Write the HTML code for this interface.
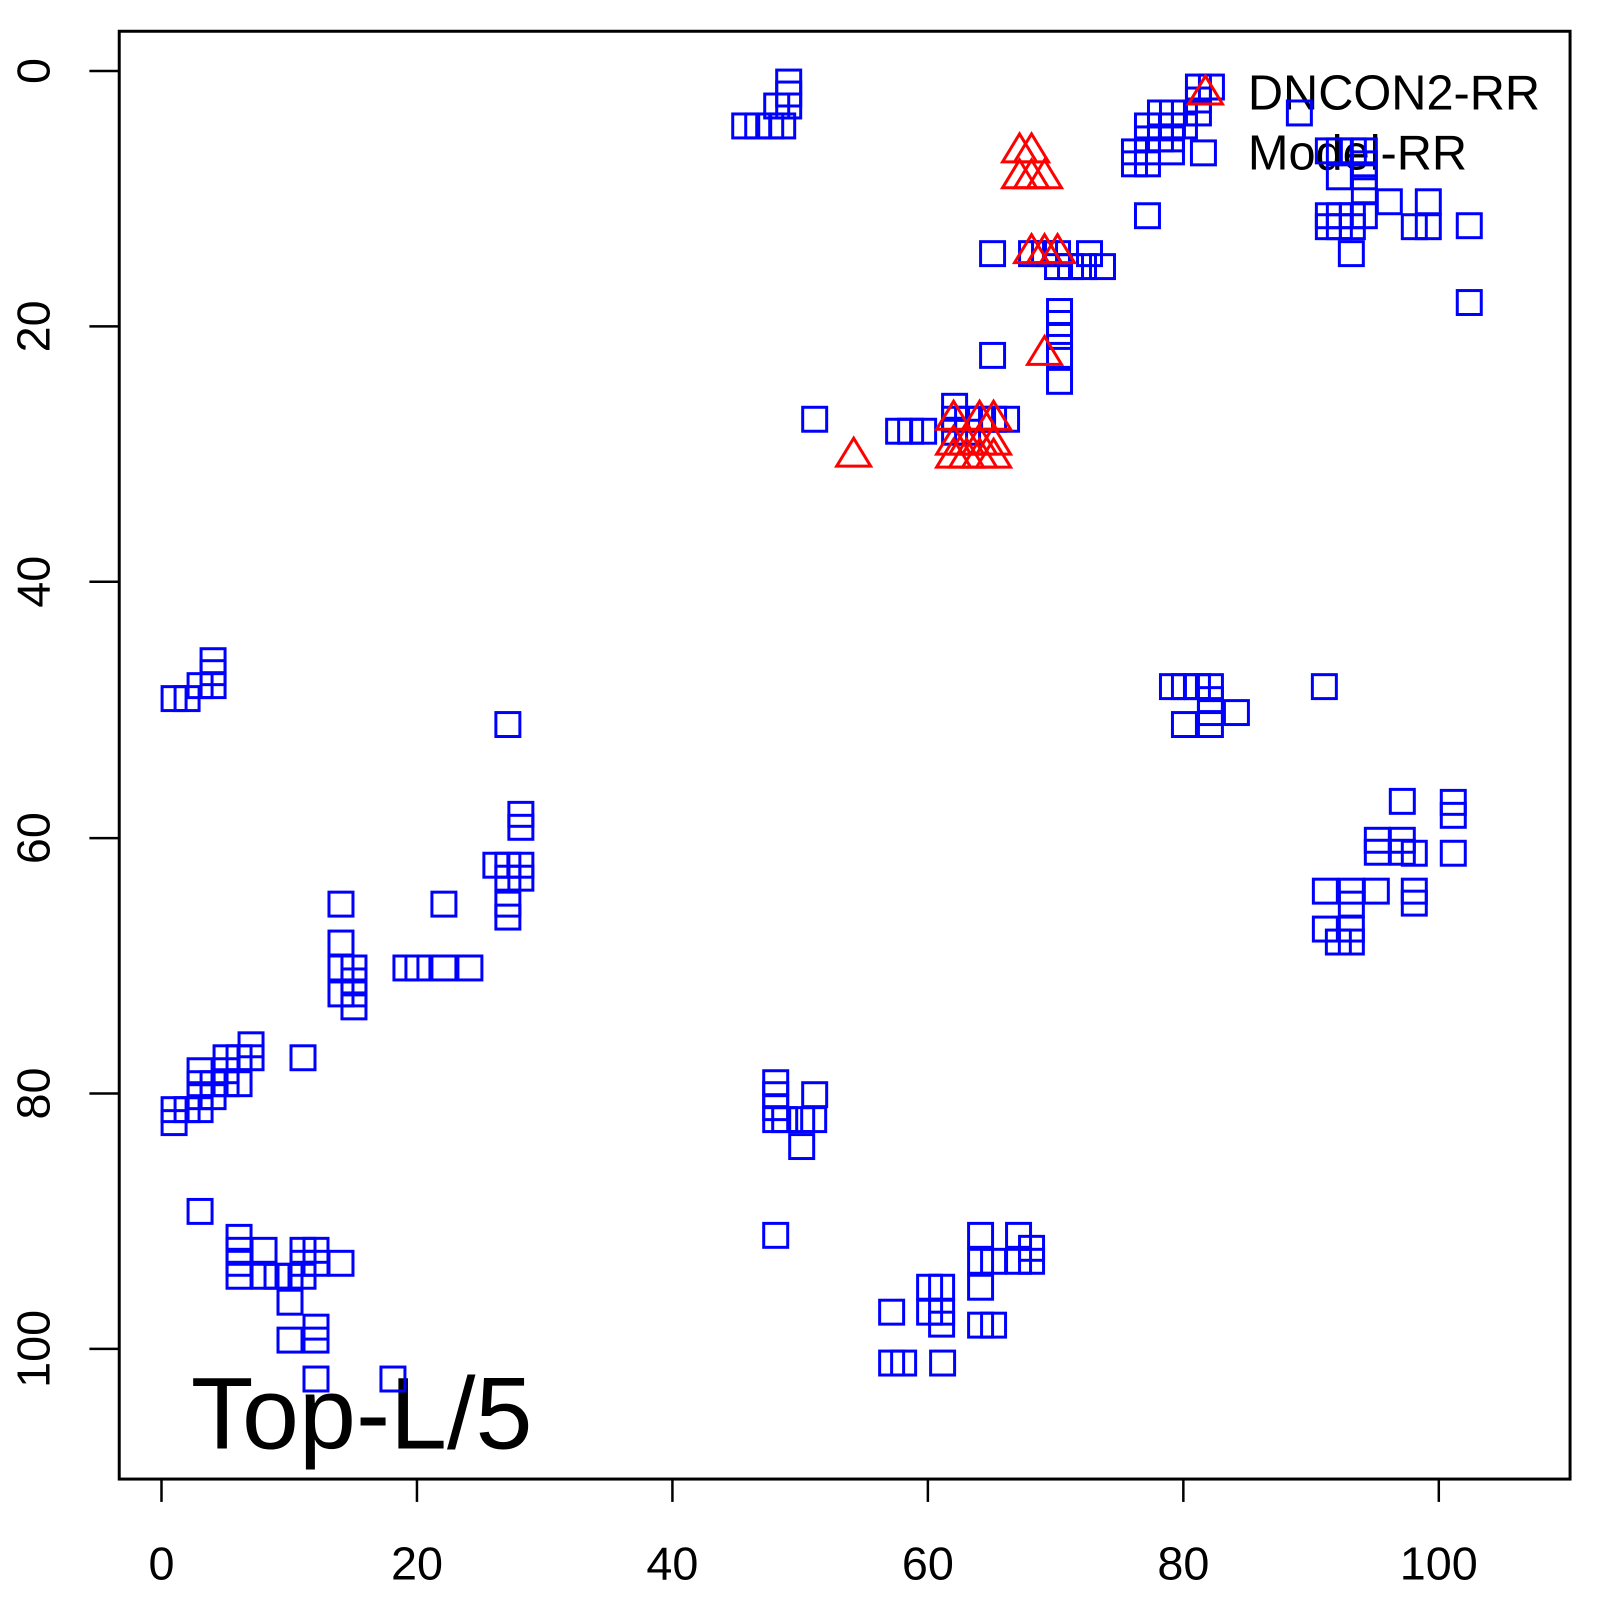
<!DOCTYPE html>
<html><head><meta charset="utf-8"><style>
html,body{margin:0;padding:0;background:#fff;}
svg{display:block;}
text{font-family:"Liberation Sans",Arial,sans-serif;fill:#000;}
</style></head><body>
<svg width="1600" height="1600" viewBox="0 0 1600 1600" xmlns="http://www.w3.org/2000/svg">
<defs>
<rect id="s" x="-12" y="-12" width="24" height="24" fill="none" stroke="#0000ff" stroke-width="3"/>
<path id="t" d="M0 0 L17 28 L-17 28 Z" fill="none" stroke="#ff0000" stroke-width="3" stroke-linejoin="miter"/>
</defs>
<rect x="0" y="0" width="1600" height="1600" fill="#fff"/>
<g transform="matrix(0.9944 0 0 0.9937 0.9 1.44)">
<rect x="119" y="30" width="1459" height="1457" fill="none" stroke="#000" stroke-width="3"/>
<g stroke="#000" stroke-width="2.5">
<line x1="161.5" y1="1487" x2="1446" y2="1487"/>
<line x1="161.5" y1="1487" x2="161.5" y2="1510"/>
<line x1="418.4" y1="1487" x2="418.4" y2="1510"/>
<line x1="675.3" y1="1487" x2="675.3" y2="1510"/>
<line x1="932.2" y1="1487" x2="932.2" y2="1510"/>
<line x1="1189.1" y1="1487" x2="1189.1" y2="1510"/>
<line x1="1446" y1="1487" x2="1446" y2="1510"/>
<line x1="119" y1="70" x2="119" y2="1356"/>
<line x1="89" y1="70" x2="119" y2="70"/>
<line x1="89" y1="327" x2="119" y2="327"/>
<line x1="89" y1="584" x2="119" y2="584"/>
<line x1="89" y1="842" x2="119" y2="842"/>
<line x1="89" y1="1099" x2="119" y2="1099"/>
<line x1="89" y1="1356" x2="119" y2="1356"/>
</g>
<g font-size="47" text-anchor="middle">
<text x="161.5" y="1588">0</text>
<text x="418.4" y="1588">20</text>
<text x="675.3" y="1588">40</text>
<text x="932.2" y="1588">60</text>
<text x="1189.1" y="1588">80</text>
<text x="1446" y="1588">100</text>
<text transform="translate(49,70) rotate(-90)">0</text>
<text transform="translate(49,327) rotate(-90)">20</text>
<text transform="translate(49,584) rotate(-90)">40</text>
<text transform="translate(49,842) rotate(-90)">60</text>
<text transform="translate(49,1099) rotate(-90)">80</text>
<text transform="translate(49,1356) rotate(-90)">100</text>
</g>
<text x="191" y="1456" font-size="103">Top-L/5</text>
<text x="1254" y="109" font-size="49">DNCON2-RR</text>
<text x="1254" y="169" font-size="49">Model-RR</text>
<g transform="matrix(1.005 0 0 1.004 1.3 2.8)">
<g>
<use href="#s" x="172" y="696"/><use href="#s" x="185" y="696"/><use href="#s" x="198" y="683"/><use href="#s" x="211" y="683"/><use href="#s" x="211" y="670"/><use href="#s" x="211" y="658"/>
<use href="#s" x="506" y="722"/><use href="#s" x="519" y="812"/><use href="#s" x="519" y="825"/><use href="#s" x="494" y="863"/><use href="#s" x="506" y="863"/><use href="#s" x="519" y="863"/><use href="#s" x="506" y="876"/><use href="#s" x="519" y="876"/><use href="#s" x="506" y="902"/><use href="#s" x="506" y="915"/>
<use href="#s" x="339" y="902"/><use href="#s" x="339" y="941"/><use href="#s" x="339" y="966"/><use href="#s" x="339" y="992"/><use href="#s" x="352" y="966"/><use href="#s" x="352" y="979"/><use href="#s" x="352" y="992"/><use href="#s" x="352" y="1005"/><use href="#s" x="404" y="966"/><use href="#s" x="416" y="966"/><use href="#s" x="442" y="966"/><use href="#s" x="468" y="966"/><use href="#s" x="442" y="902"/>
<use href="#s" x="172" y="1108"/><use href="#s" x="172" y="1121"/><use href="#s" x="185" y="1108"/><use href="#s" x="198" y="1069"/><use href="#s" x="198" y="1082"/><use href="#s" x="198" y="1095"/><use href="#s" x="198" y="1108"/><use href="#s" x="211" y="1082"/><use href="#s" x="211" y="1095"/><use href="#s" x="224" y="1056"/><use href="#s" x="224" y="1069"/><use href="#s" x="224" y="1082"/><use href="#s" x="237" y="1056"/><use href="#s" x="237" y="1082"/><use href="#s" x="249" y="1043"/><use href="#s" x="249" y="1056"/><use href="#s" x="301" y="1056"/>
<use href="#s" x="198" y="1210"/><use href="#s" x="237" y="1236"/><use href="#s" x="237" y="1249"/><use href="#s" x="237" y="1262"/><use href="#s" x="237" y="1275"/><use href="#s" x="262" y="1249"/><use href="#s" x="262" y="1275"/><use href="#s" x="275" y="1275"/><use href="#s" x="288" y="1275"/><use href="#s" x="288" y="1301"/><use href="#s" x="301" y="1249"/><use href="#s" x="314" y="1249"/><use href="#s" x="301" y="1262"/><use href="#s" x="314" y="1262"/><use href="#s" x="301" y="1275"/><use href="#s" x="339" y="1262"/><use href="#s" x="288" y="1339"/><use href="#s" x="314" y="1326"/><use href="#s" x="314" y="1339"/><use href="#s" x="314" y="1378"/><use href="#s" x="391" y="1378"/>
<use href="#s" x="743" y="122"/><use href="#s" x="756" y="122"/><use href="#s" x="769" y="122"/><use href="#s" x="781" y="122"/><use href="#s" x="775" y="102"/><use href="#s" x="787" y="102"/><use href="#s" x="787" y="90"/><use href="#s" x="787" y="78"/>
<use href="#s" x="991" y="250"/><use href="#s" x="1030" y="250"/><use href="#s" x="1043" y="250"/><use href="#s" x="1056" y="250"/><use href="#s" x="1088" y="250"/>
<use href="#s" x="1056" y="263"/><use href="#s" x="1069" y="263"/><use href="#s" x="1082" y="263"/><use href="#s" x="1101" y="263"/>
<use href="#s" x="1058" y="308"/><use href="#s" x="1058" y="320"/><use href="#s" x="1058" y="333"/><use href="#s" x="1058" y="352"/><use href="#s" x="1058" y="378"/><use href="#s" x="991" y="352"/>
<use href="#s" x="813" y="416"/><use href="#s" x="897" y="428"/><use href="#s" x="909" y="428"/><use href="#s" x="922" y="428"/>
<use href="#s" x="953" y="403"/><use href="#s" x="953" y="416"/><use href="#s" x="966" y="416"/><use href="#s" x="979" y="416"/><use href="#s" x="992" y="416"/><use href="#s" x="1005" y="416"/><use href="#s" x="953" y="429"/><use href="#s" x="966" y="429"/>
<use href="#s" x="1197" y="83"/><use href="#s" x="1210" y="83"/><use href="#s" x="1197" y="96"/>
<use href="#s" x="1159" y="109"/><use href="#s" x="1171" y="109"/><use href="#s" x="1183" y="109"/><use href="#s" x="1197" y="109"/>
<use href="#s" x="1146" y="122"/><use href="#s" x="1159" y="122"/><use href="#s" x="1171" y="122"/><use href="#s" x="1183" y="122"/>
<use href="#s" x="1146" y="135"/><use href="#s" x="1159" y="135"/><use href="#s" x="1170" y="135"/>
<use href="#s" x="1133" y="148"/><use href="#s" x="1146" y="148"/><use href="#s" x="1170" y="148"/>
<use href="#s" x="1133" y="160"/><use href="#s" x="1146" y="160"/>
<use href="#s" x="1202" y="149"/><use href="#s" x="1298" y="109"/><use href="#s" x="1146" y="212"/>
<use href="#s" x="1327" y="147"/><use href="#s" x="1338" y="147"/><use href="#s" x="1352" y="147"/><use href="#s" x="1363" y="147"/>
<use href="#s" x="1363" y="160"/><use href="#s" x="1363" y="173"/><use href="#s" x="1338" y="173"/><use href="#s" x="1363" y="187"/><use href="#s" x="1388" y="198"/><use href="#s" x="1427" y="198"/>
<use href="#s" x="1327" y="212"/><use href="#s" x="1338" y="212"/><use href="#s" x="1351" y="212"/><use href="#s" x="1363" y="212"/>
<use href="#s" x="1327" y="223"/><use href="#s" x="1338" y="223"/><use href="#s" x="1351" y="223"/><use href="#s" x="1413" y="223"/><use href="#s" x="1427" y="223"/>
<use href="#s" x="1350" y="250"/><use href="#s" x="1468" y="222"/><use href="#s" x="1468" y="299"/>
<use href="#s" x="1171" y="684"/><use href="#s" x="1183" y="684"/><use href="#s" x="1196" y="684"/><use href="#s" x="1209" y="684"/><use href="#s" x="1209" y="697"/><use href="#s" x="1209" y="710"/><use href="#s" x="1209" y="722"/><use href="#s" x="1183" y="722"/><use href="#s" x="1235" y="710"/><use href="#s" x="1323" y="684"/>
<use href="#s" x="1401" y="799"/><use href="#s" x="1452" y="800"/><use href="#s" x="1452" y="813"/>
<use href="#s" x="1376" y="838"/><use href="#s" x="1376" y="850"/><use href="#s" x="1401" y="838"/><use href="#s" x="1401" y="850"/><use href="#s" x="1413" y="851"/><use href="#s" x="1452" y="851"/>
<use href="#s" x="1324" y="889"/><use href="#s" x="1350" y="889"/><use href="#s" x="1350" y="902"/><use href="#s" x="1375" y="889"/><use href="#s" x="1413" y="889"/><use href="#s" x="1413" y="901"/>
<use href="#s" x="1324" y="927"/><use href="#s" x="1350" y="927"/><use href="#s" x="1337" y="940"/><use href="#s" x="1350" y="940"/>
<use href="#s" x="774" y="1081"/><use href="#s" x="774" y="1093"/><use href="#s" x="774" y="1106"/><use href="#s" x="774" y="1118"/><use href="#s" x="783" y="1118"/><use href="#s" x="800" y="1118"/><use href="#s" x="812" y="1118"/><use href="#s" x="813" y="1093"/><use href="#s" x="800" y="1145"/><use href="#s" x="774" y="1234"/>
<use href="#s" x="979" y="1234"/><use href="#s" x="1017" y="1234"/><use href="#s" x="1030" y="1247"/><use href="#s" x="979" y="1260"/><use href="#s" x="992" y="1260"/><use href="#s" x="1017" y="1260"/><use href="#s" x="1030" y="1260"/><use href="#s" x="979" y="1286"/>
<use href="#s" x="928" y="1286"/><use href="#s" x="940" y="1286"/><use href="#s" x="928" y="1311"/><use href="#s" x="940" y="1311"/><use href="#s" x="940" y="1323"/><use href="#s" x="890" y="1311"/>
<use href="#s" x="979" y="1324"/><use href="#s" x="992" y="1324"/>
<use href="#s" x="890" y="1362"/><use href="#s" x="902" y="1362"/><use href="#s" x="941" y="1362"/>
</g>
<g>
<use href="#t" x="1018" y="130"/><use href="#t" x="1030" y="130"/>
<use href="#t" x="1018" y="156"/><use href="#t" x="1030" y="156"/><use href="#t" x="1043" y="156"/>
<use href="#t" x="1030" y="231"/><use href="#t" x="1043" y="231"/><use href="#t" x="1056" y="231"/>
<use href="#t" x="1043" y="333"/><use href="#t" x="852" y="435"/>
<use href="#t" x="952" y="398"/><use href="#t" x="978" y="398"/><use href="#t" x="992" y="398"/>
<use href="#t" x="952" y="423"/><use href="#t" x="965" y="423"/><use href="#t" x="978" y="423"/><use href="#t" x="992" y="423"/>
<use href="#t" x="952" y="436"/><use href="#t" x="965" y="436"/><use href="#t" x="978" y="436"/><use href="#t" x="992" y="436"/>
<use href="#t" x="1204" y="72"/>
</g>
</g>
</g>
</svg>
</body></html>
